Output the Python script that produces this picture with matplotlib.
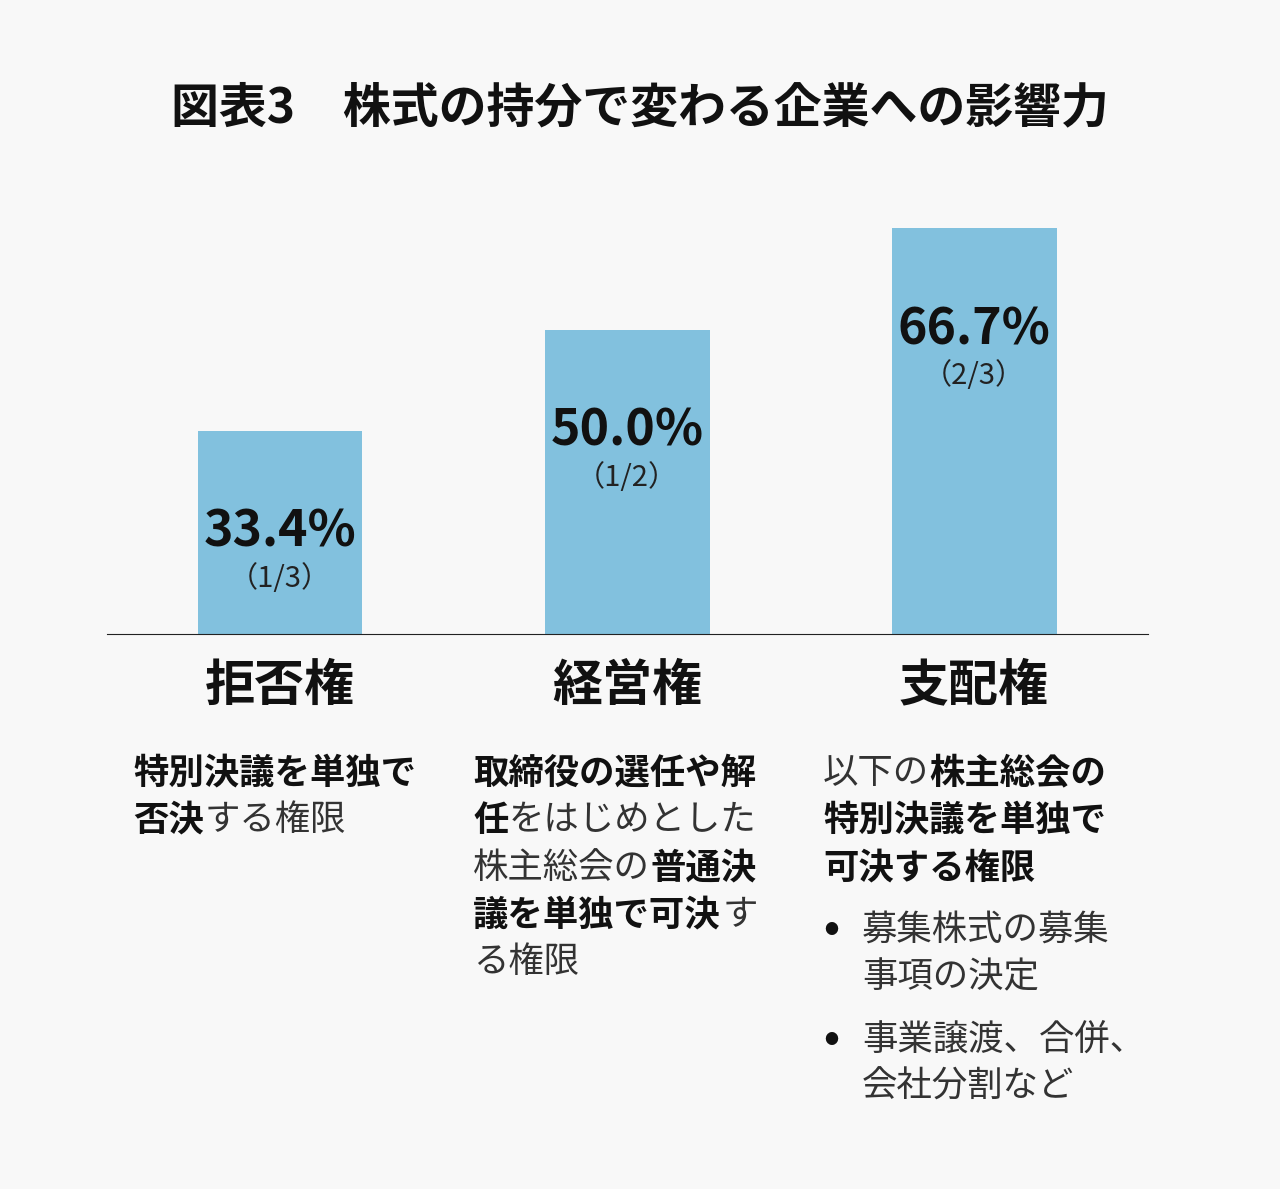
import matplotlib
matplotlib.use('Agg')
import matplotlib.pyplot as plt

plt.rcParams['font.family'] = 'Noto Sans CJK JP'

# data
categories = ['拒否権', '経営権', '支配権']
shares = [33.4, 50.0, 66.7]
fractions = ['（1/3）', '（1/2）', '（2/3）']
title = '図表3　株式の持分で変わる企業への影響力'

# description runs: (text, bold)
desc = [
    [[('特別決議を単独で', True)], [('否決', True), ('する権限', False)]],
    [[('取締役の選任や解', True)], [('任', True), ('をはじめとした', False)],
     [('株主総会の', False), ('普通決', True)],
     [('議を単独で可決', True), ('す', False)], [('る権限', False)]],
    [[('以下の', False), ('株主総会の', True)], [('特別決議を単独で', True)],
     [('可決する権限', True)]],
]
bullets = [['募集株式の募集', '事項の決定'], ['事業譲渡、合併、', '会社分割など']]

W, H = 1280, 1189
bg = '#f8f8f8'
fig = plt.figure(figsize=(W / 100, H / 100), dpi=100, facecolor=bg)

def fx(x): return x / W
def fy(y): return 1 - y / H

ax = fig.add_axes([fx(107), fy(634), 1041 / W, 484 / H])
ax.set_facecolor(bg)
x = range(len(shares))
ax.bar(x, shares, width=0.475, color='#82c1de')
ax.set_xlim(-0.4986, 2.501)
ax.set_ylim(0, 79.5)
for s in ['top', 'right', 'left']:
    ax.spines[s].set_visible(False)
ax.spines['bottom'].set_color('#222222')
ax.set_xticks([])
ax.set_yticks([])
for i, v in enumerate(shares):
    ax.text(i, v - 16.7, '%.1f%%' % v, ha='center', va='center',
            fontsize=36, fontweight='bold', color='#111111')
    ax.text(i, v - 24.3, fractions[i], ha='center', va='center',
            fontsize=21, color='#222222')

fig.text(fx(640), fy(108), title, ha='center', va='center',
         fontsize=34.5, fontweight='bold', color='#111111')

centers = [280, 627, 974]
for c, cat in zip(centers, categories):
    fig.text(fx(c), fy(686), cat, ha='center', va='center',
             fontsize=36, fontweight='bold', color='#111111')

cw = 35.6  # full-width char advance, px
def run_line(x0, y, runs):
    xx = x0
    for t, b in runs:
        fig.text(fx(xx), fy(y), t, ha='left', va='center', fontsize=25.5,
                 fontweight='bold' if b else 'normal',
                 color='#111111' if b else '#333333')
        xx += cw * len(t)

col_x = [133, 473, 823]
for cx, lines in zip(col_x, desc):
    for k, runs in enumerate(lines):
        run_line(cx, 773 + 47.3 * k, runs)

bullet_y = [930, 1040]
for by, lines in zip(bullet_y, bullets):
    fig.text(fx(831), fy(by), '●', ha='center', va='center', fontsize=10, color='#111111')
    for k, t in enumerate(lines):
        run_line(862, by + 47 * k, [(t, False)])

fig.savefig('out.png', dpi=100, facecolor=bg)
